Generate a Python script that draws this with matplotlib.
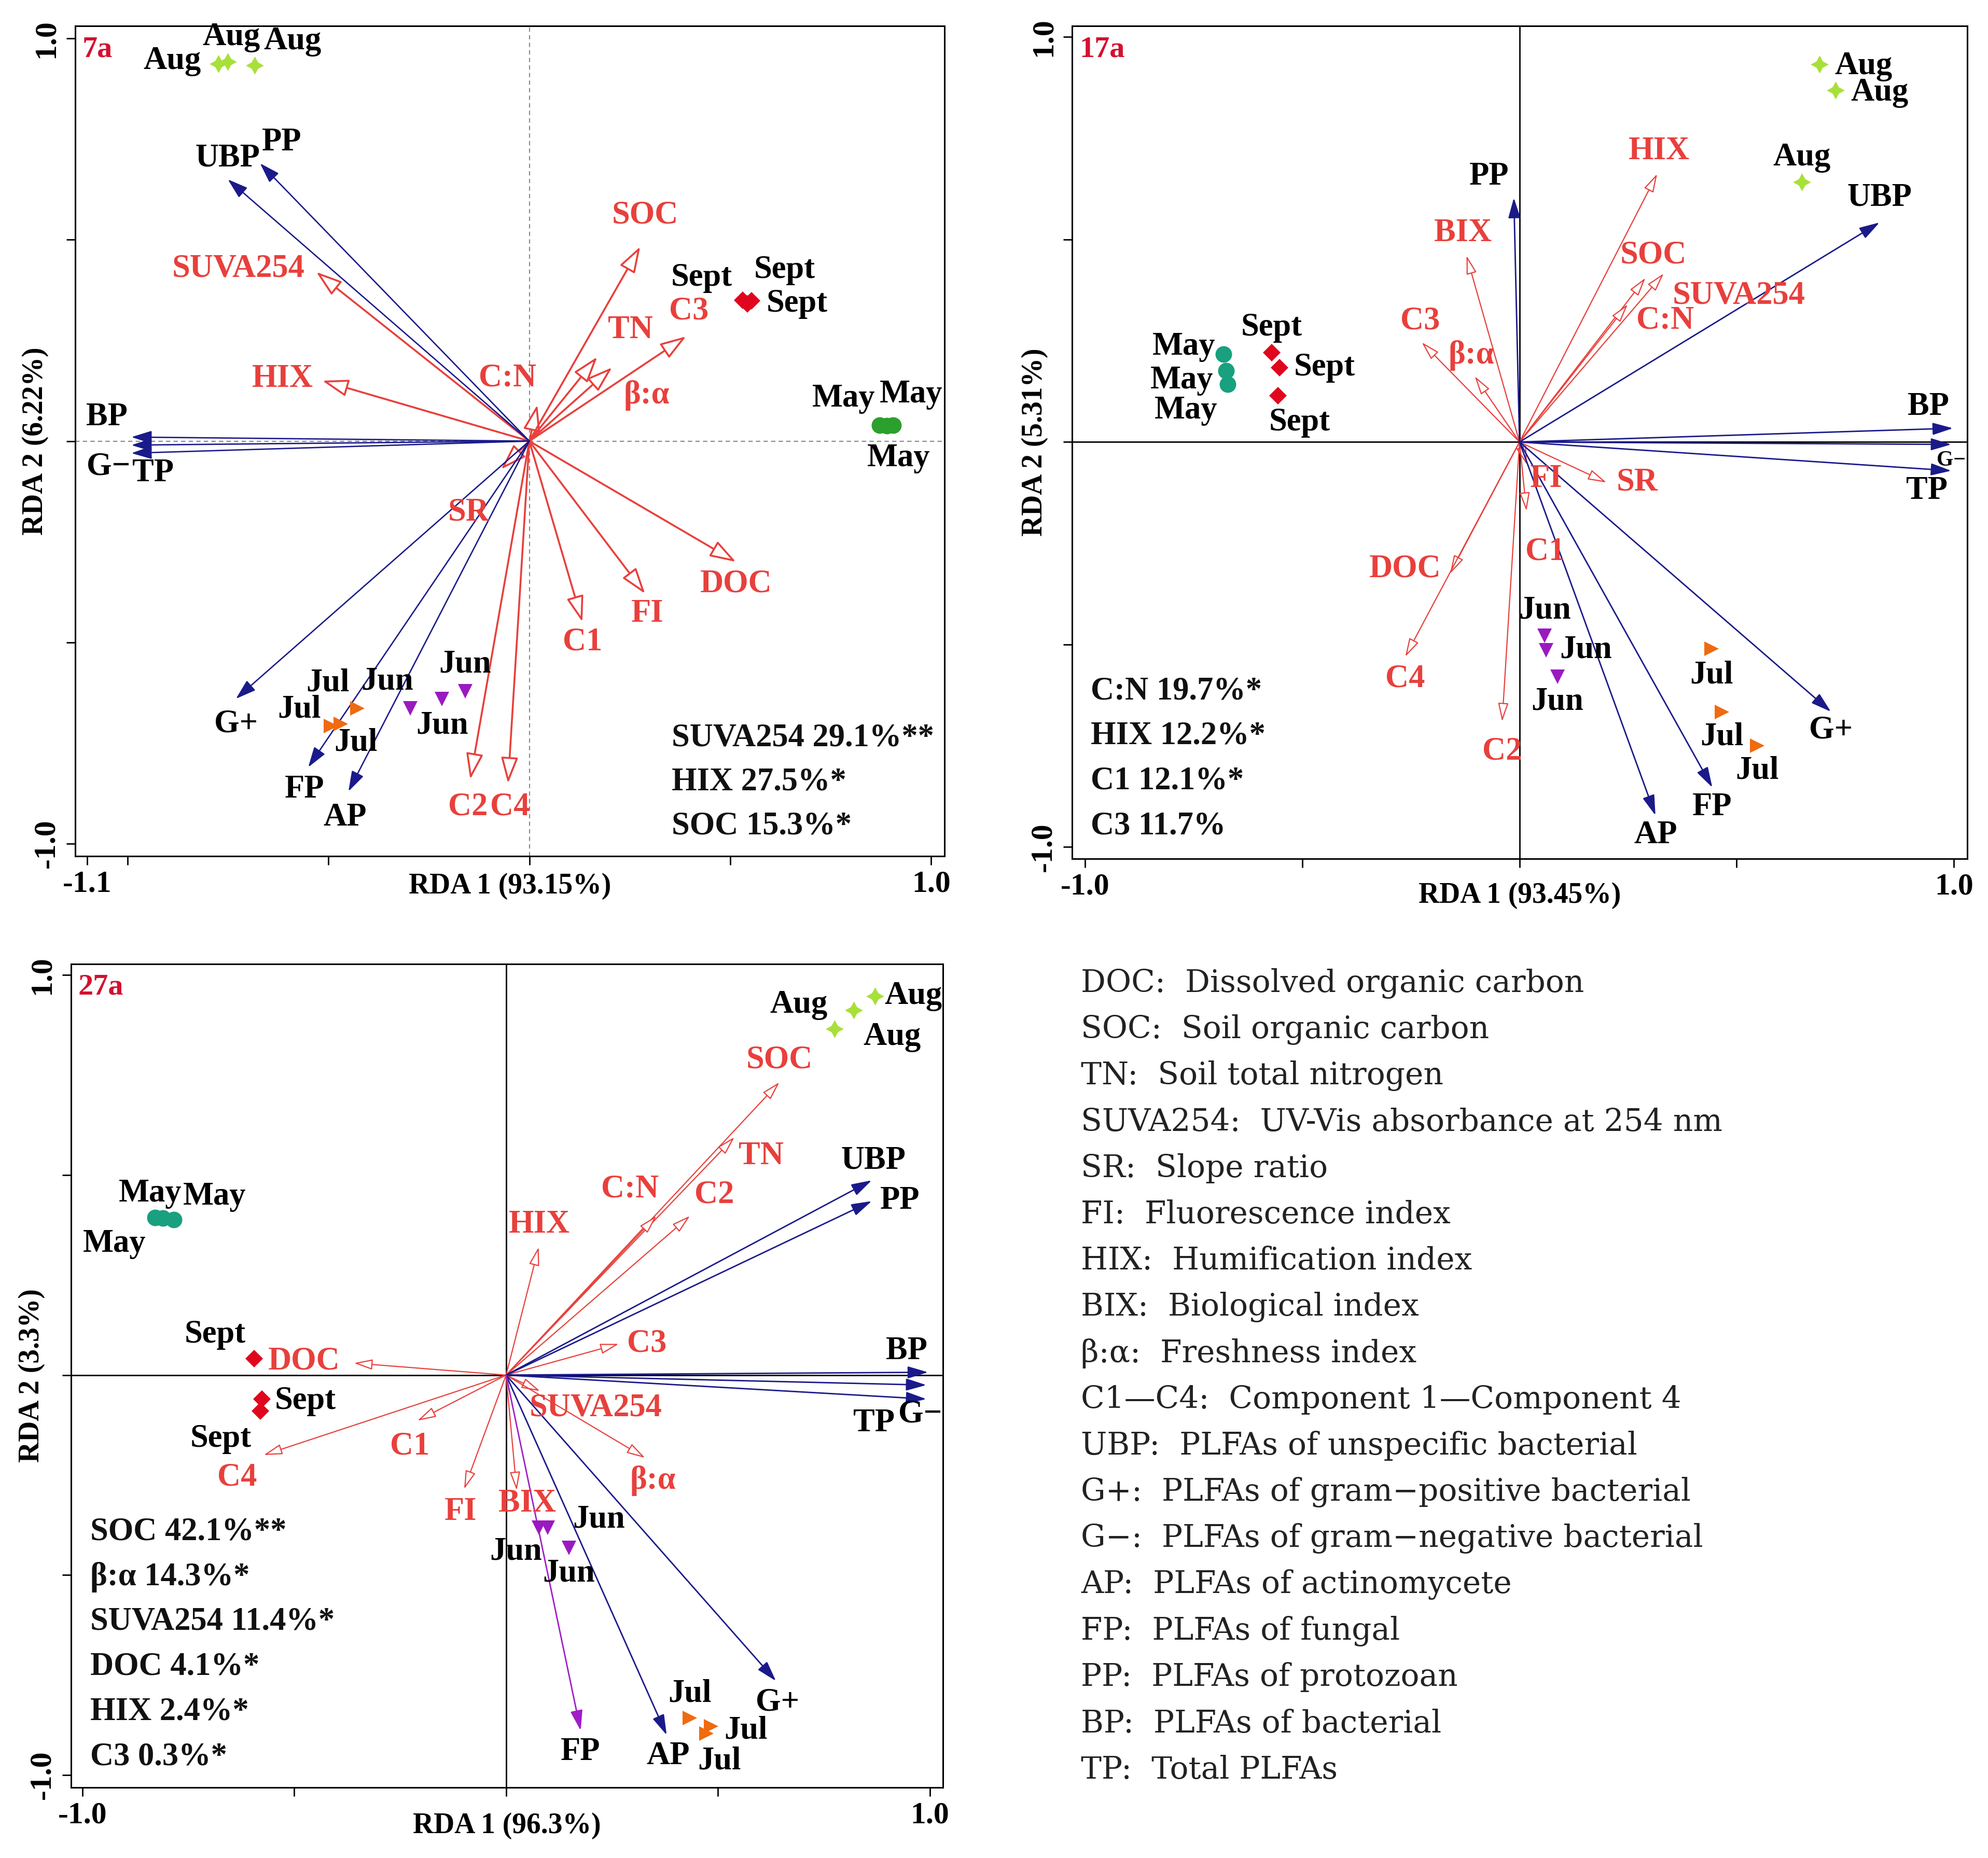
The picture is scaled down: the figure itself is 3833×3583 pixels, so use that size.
import numpy as np
import matplotlib
matplotlib.use("Agg")
import matplotlib.pyplot as plt

plt.rcParams['font.family'] = ['Liberation Serif', 'DejaVu Serif']
plt.rcParams['font.weight'] = 'bold'

NAVY = '#1a1a8a'
RED = '#e8403c'
PURPLE = '#a01ec8'

# ---------------- panel 7a ----------------
sp1_names = ['UBP', 'PP', 'BP', 'G\u2212', 'TP', 'G+', 'FP', 'AP']
sp1_x = [-0.75, -0.67, -0.99, -0.99, -0.99, -0.73, -0.55, -0.45]
sp1_y = [0.65, 0.69, 0.01, -0.01, -0.03, -0.64, -0.81, -0.87]
env1_names = ['SUVA254', 'HIX', 'C:N', 'SOC', 'TN', '\u03b2:\u03b1', 'C3', 'SR', 'DOC', 'FI', 'C1', 'C2', 'C4']
env1_x = [-0.53, -0.515, 0.02, 0.276, 0.169, 0.206, 0.39, -0.07, 0.514, 0.288, 0.132, -0.147, -0.053]
env1_y = [0.42, 0.15, 0.09, 0.483, 0.209, 0.183, 0.26, -0.07, -0.30, -0.379, -0.449, -0.84, -0.85]
smp1_month = ['Aug', 'Aug', 'Aug', 'Sept', 'Sept', 'Sept', 'May', 'May', 'May',
              'Jul', 'Jul', 'Jul', 'Jun', 'Jun', 'Jun']
smp1_x = [-0.774, -0.75, -0.684, 0.531, 0.553, 0.543, 0.872, 0.905, 0.89,
          -0.428, -0.494, -0.469, -0.296, -0.217, -0.16]
smp1_y = [0.937, 0.942, 0.933, 0.35, 0.348, 0.341, 0.039, 0.039, 0.038,
          -0.664, -0.707, -0.703, -0.664, -0.641, -0.621]
stats1 = ['SUVA254 29.1%**', 'HIX 27.5%*', 'SOC 15.3%*']

# ---------------- panel 17a ----------------
sp2_names = ['PP', 'UBP', 'BP', 'G\u2212', 'TP', 'G+', 'FP', 'AP']
sp2_x = [-0.013, 0.829, 0.998, 0.994, 0.994, 0.717, 0.444, 0.313]
sp2_y = [0.603, 0.542, 0.034, -0.006, -0.071, -0.666, -0.853, -0.922]
env2_names = ['BIX', 'C3', '\u03b2:\u03b1', 'HIX', 'SOC', 'SUVA254', 'C:N', 'FI', 'SR', 'C1', 'C2', 'DOC', 'C4']
env2_x = [-0.122, -0.225, -0.103, 0.317, 0.29, 0.332, 0.249, 0.017, 0.2, 0.016, -0.04, -0.16, -0.263]
env2_y = [0.46, 0.246, 0.162, 0.662, 0.405, 0.416, 0.34, -0.056, -0.10, -0.17, -0.69, -0.325, -0.53]
smp2_month = ['May', 'May', 'May', 'Sept', 'Sept', 'Sept', 'Aug', 'Aug', 'Aug',
              'Jun', 'Jun', 'Jun', 'Jul', 'Jul', 'Jul']
smp2_x = [-0.682, -0.676, -0.672, -0.571, -0.552, -0.556, 0.691, 0.728, 0.65,
          0.058, 0.061, 0.087, 0.442, 0.466, 0.547]
smp2_y = [0.217, 0.176, 0.143, 0.22, 0.184, 0.114, 0.933, 0.868, 0.642,
          -0.479, -0.514, -0.579, -0.51, -0.666, -0.75]
stats2 = ['C:N 19.7%*', 'HIX 12.2%*', 'C1 12.1%*', 'C3 11.7%']

# ---------------- panel 27a ----------------
sp3_names = ['UBP', 'PP', 'BP', 'G\u2212', 'TP', 'G+', 'AP', 'FP']
sp3_x = [0.863, 0.863, 0.996, 0.992, 0.992, 0.637, 0.379, 0.176]
sp3_y = [0.487, 0.435, 0.007, -0.025, -0.06, -0.765, -0.9, -0.889]
env3_names = ['SOC', 'TN', 'C:N', 'C2', 'HIX', 'C3', 'DOC', 'C1', 'C4', 'FI', 'BIX', 'SUVA254', '\u03b2:\u03b1']
env3_x = [0.645, 0.539, 0.355, 0.434, 0.077, 0.266, -0.359, -0.209, -0.572, -0.099, 0.025, 0.08, 0.328]
env3_y = [0.732, 0.595, 0.398, 0.398, 0.32, 0.078, 0.03, -0.114, -0.2, -0.285, -0.288, -0.04, -0.207]
smp3_month = ['May', 'May', 'May', 'Sept', 'Sept', 'Sept', 'Aug', 'Aug', 'Aug',
              'Jun', 'Jun', 'Jun', 'Jul', 'Jul', 'Jul']
smp3_x = [-0.828, -0.785, -0.81, -0.595, -0.576, -0.58, 0.871, 0.82, 0.775,
          0.078, 0.098, 0.148, 0.434, 0.484, 0.473]
smp3_y = [0.394, 0.388, 0.392, 0.041, -0.06, -0.09, 0.948, 0.913, 0.866,
          -0.381, -0.381, -0.432, -0.858, -0.878, -0.897]
stats3 = ['SOC 42.1%**', '\u03b2:\u03b1 14.3%*', 'SUVA254 11.4%*', 'DOC 4.1%*', 'HIX 2.4%*', 'C3 0.3%*']

legend_lines = [
    'DOC:  Dissolved organic carbon',
    'SOC:  Soil organic carbon',
    'TN:  Soil total nitrogen',
    'SUVA254:  UV-Vis absorbance at 254 nm',
    'SR:  Slope ratio',
    'FI:  Fluorescence index',
    'HIX:  Humification index',
    'BIX:  Biological index',
    '\u03b2:\u03b1:  Freshness index',
    'C1\u2014C4:  Component 1\u2014Component 4',
    'UBP:  PLFAs of unspecific bacterial',
    'G+:  PLFAs of gram\u2212positive bacterial',
    'G\u2212:  PLFAs of gram\u2212negative bacterial',
    'AP:  PLFAs of actinomycete',
    'FP:  PLFAs of fungal',
    'PP:  PLFAs of protozoan',
    'BP:  PLFAs of bacterial',
    'TP:  Total PLFAs',
]

# label offsets (points) -- layout only
sp1_off = [(0, 29), (30, 29), (-34, 27), (-32, -30), (30, -28), (0, -35), (-5, -31), (-5, -37)]
env1_off = [(-108, 4), (-55, 2), (-41, 37), (7, 43), (46, 37), (48, -39), (4, 35), (-45, -60),
            (0, -31), (3, -28), (0, -28), (-3, -39), (3, -33)]
smp1_off = [(-64, 4), (5, 34), (53, 33), (-57, 31), (46, 43), (69, 0), (-50, 37), (25, 43), (16, -45),
            (-41, 35), (-44, 22), (21, -26), (-32, 37), (0, -37), (0, 37)]
sp2_off = [(-34, 29), (0, 34), (-34, 29), (0, -22), (-34, -28), (0, -26), (0, -28), (0, -28)]
env2_off = [(-5, 31), (-2, 29), (-5, 29), (3, 31), (11, 31), (104, -31), (52, -23), (27, -20),
            (43, 0), (26, -57), (0, -42), (-62, 6), (0, -31)]
smp2_off = [(-55, 10), (-61, -14), (-58, -37), (0, 35), (62, 0), (30, -37), (61, -3), (61, -3), (0, 34),
            (0, 35), (55, 0), (0, -35), (0, -37), (0, -35), (0, -35)]
sp3_off = [(2, 27), (39, 0), (-30, 29), (-9, -41), (-73, -34), (2, -30), (2, -30), (0, -30)]
env3_off = [(0, 31), (37, -27), (-37, 37), (34, 29), (1, 31), (39, 0), (-69, 2), (-11, -36),
            (-37, -31), (-5, -32), (15, -19), (77, -24), (11, -32)]
smp3_off = [(-7, 33), (57, 32), (-67, -36), (-54, 33), (60, -3), (-55, -39), (53, 0), (-76, 7), (80, -12),
            (-32, -34), (71, 11), (0, -36), (0, 34), (48, -6), (18, -38)]

FS = 45


def month_style(m, may_color):
    st = {
        'Aug': dict(marker=(4, 1, 0), color='#a8e03a', ms=25),
        'May': dict(marker='o', color=may_color, ms=23),
        'Sept': dict(marker='D', color='#e0061e', ms=17),
        'Jun': dict(marker='v', color='#9a1ac0', ms=20),
        'Jul': dict(marker='>', color='#f06a10', ms=20),
    }
    return st[m]


def draw_panel(ax, tag, sp_names, sp_x, sp_y, sp_off, env_names, env_x, env_y, env_off,
               months, sx, sy, s_off, stats, stats_xy, xlim, ylim, xticks, xticklabels,
               xlab, ylab, style):
    ax.set_xlim(*xlim)
    ax.set_ylim(*ylim)
    if style == 1:
        ax.axhline(0, color='#888888', lw=1.5, ls=(0, (4, 3)), zorder=1)
        ax.axvline(0, color='#888888', lw=1.5, ls=(0, (4, 3)), zorder=1)
        env_lw, env_ms, env_hw = 2.6, 31, 0.33
        sp_lw, sp_ms, sp_hw = 1.9, 24, 0.32
        may_color = '#2ca02c'
    else:
        ax.axhline(0, color='black', lw=2, zorder=1)
        ax.axvline(0, color='black', lw=2, zorder=1)
        env_lw, env_ms, env_hw = 1.6, 22, 0.28
        sp_lw, sp_ms, sp_hw = 2.0, 24, 0.3
        may_color = '#19a07e'

    for n, x, y, off in zip(env_names, env_x, env_y, env_off):
        ax.annotate('', xy=(x, y), xytext=(0, 0),
                    arrowprops=dict(arrowstyle='-|>,head_length=1.0,head_width=%.2f' % env_hw,
                                    mutation_scale=env_ms, lw=env_lw, edgecolor=RED,
                                    facecolor='white', shrinkA=0, shrinkB=0), zorder=3)
        ax.annotate(n, xy=(x, y), xytext=off, textcoords='offset points', ha='center',
                    va='center', color=RED, fontsize=FS, zorder=5)

    for n, x, y, off in zip(sp_names, sp_x, sp_y, sp_off):
        c = PURPLE if (tag == '27a' and n == 'FP') else NAVY
        ax.annotate('', xy=(x, y), xytext=(0, 0),
                    arrowprops=dict(arrowstyle='-|>,head_length=1.0,head_width=%.2f' % sp_hw,
                                    mutation_scale=sp_ms, lw=sp_lw, color=c,
                                    shrinkA=0, shrinkB=0), zorder=4)
        fs = 30 if (tag == '17a' and n == 'G\u2212') else FS
        ax.annotate(n, xy=(x, y), xytext=off, textcoords='offset points', ha='center',
                    va='center', color='black', fontsize=fs, zorder=5, annotation_clip=False)

    for m, x, y, off in zip(months, sx, sy, s_off):
        st = month_style(m, may_color)
        ax.plot([x], [y], linestyle='none', marker=st['marker'], color=st['color'],
                markersize=st['ms'], markeredgewidth=0, zorder=6)
        ax.annotate(m, xy=(x, y), xytext=off, textcoords='offset points', ha='center',
                    va='center', color='black', fontsize=FS, zorder=5)

    x0, y0, dy = stats_xy
    for i, s in enumerate(stats):
        ax.text(x0, y0 - i * dy, s, transform=ax.transAxes, ha='left', va='center',
                fontsize=FS, color='#111111')

    ax.text(0.008, 0.988, tag, transform=ax.transAxes, ha='left', va='top',
            fontsize=42, color='#d4102e')

    ax.set_xticks(xticks)
    ax.set_xticklabels(xticklabels)
    ax.set_yticks([-1.0, -0.5, 0, 0.5, 1.0])
    ax.set_yticklabels(['-1.0', '', '', '', '1.0'])
    ax.tick_params(direction='out', length=12, width=2, labelsize=43, pad=8)
    for lab in ax.get_yticklabels():
        lab.set_rotation(90)
        lab.set_va('center')
    for sp in ax.spines.values():
        sp.set_linewidth(2.2)
    ax.text(0.5, xlab[1], xlab[0], transform=ax.transAxes, ha='center', va='center', fontsize=40)
    ax.text(ylab[1], 0.5, ylab[0], transform=ax.transAxes, ha='center', va='center',
            rotation=90, fontsize=40)


fig = plt.figure(figsize=(38.33, 35.83), dpi=100)
ax1 = fig.add_axes([0.0378, 0.5392, 0.4373, 0.4468])
ax2 = fig.add_axes([0.5393, 0.5378, 0.4503, 0.4482])
ax3 = fig.add_axes([0.0357, 0.0380, 0.4386, 0.4432])

draw_panel(ax1, '7a', sp1_names, sp1_x, sp1_y, sp1_off, env1_names, env1_x, env1_y, env1_off,
           smp1_month, smp1_x, smp1_y, smp1_off, stats1, (0.686, 0.142, 0.053),
           (-1.13, 1.033), (-1.031, 1.031), [-1.1, -1.0, -0.5, 0, 0.5, 1.0],
           ['-1.1', '', '', '', '', '1.0'], ('RDA 1 (93.15%)', -0.036), ('RDA 2 (6.22%)', -0.046), 1)
draw_panel(ax2, '17a', sp2_names, sp2_x, sp2_y, sp2_off, env2_names, env2_x, env2_y, env2_off,
           smp2_month, smp2_x, smp2_y, smp2_off, stats2, (0.021, 0.201, 0.054),
           (-1.03, 1.031), (-1.029, 1.027), [-1.0, -0.5, 0, 0.5, 1.0],
           ['-1.0', '', '', '', '1.0'], ('RDA 1 (93.45%)', -0.044), ('RDA 2 (5.31%)', -0.042), 2)
draw_panel(ax3, '27a', sp3_names, sp3_x, sp3_y, sp3_off, env3_names, env3_x, env3_y, env3_off,
           smp3_month, smp3_x, smp3_y, smp3_off, stats3, (0.022, 0.31, 0.0546),
           (-1.027, 1.031), (-1.031, 1.028), [-1.0, -0.5, 0, 0.5, 1.0],
           ['-1.0', '', '', '', '1.0'], ('RDA 1 (96.3%)', -0.047), ('RDA 2 (3.3%)', -0.045), 3)

for i, line in enumerate(legend_lines):
    fig.text(0.5437, 0.4708 - i * 0.0249, line, ha='left', va='center', fontsize=43,
             fontweight='normal', family=['DejaVu Serif'], color='#222222')

fig.savefig('out.png', dpi=100)
